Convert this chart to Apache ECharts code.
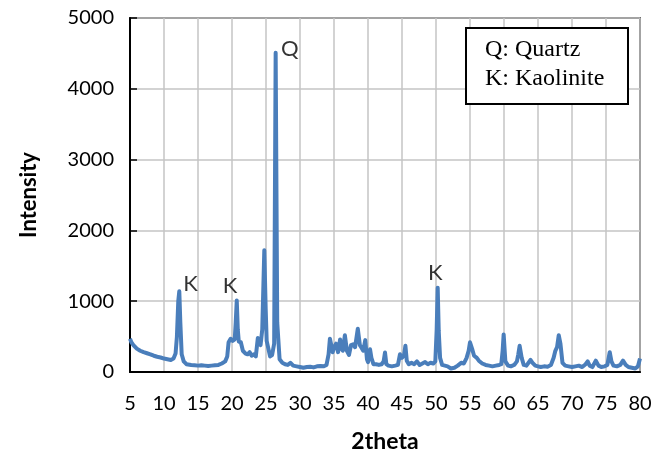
<!DOCTYPE html>
<html>
<head>
<meta charset="utf-8">
<script src="https://cdn.jsdelivr.net/npm/echarts@6/dist/echarts.min.js"></script>
<style>html,body{margin:0;padding:0;background:#fff}#c{width:669px;height:458px}</style>
</head>
<body>
<div id="c"></div>
<script>
// 2theta positions (degrees)
const twoTheta = [
5.0,5.2,5.5,6.0,6.5,7.0,7.5,8.0,8.5,9.0,9.5,10.0,10.5,11.0,11.4,11.7,11.9,12.1,12.25,12.4,12.6,12.9,13.3,14.0,14.5,15.0,15.5,16.0,16.5,17.0,17.5,18.0,18.5,19.0,19.3,19.5,19.8,20.1,20.4,20.55,20.7,20.85,21.0,21.3,21.6,22.0,22.3,22.6,22.9,23.2,23.5,23.8,24.0,24.2,24.45,24.75,24.95,25.1,25.3,25.6,25.9,26.2,26.42,26.65,27.0,27.4,27.8,28.2,28.6,29.0,29.5,30.0,30.5,31.0,31.5,32.0,32.5,33.0,33.5,33.9,34.2,34.4,34.6,34.8,35.0,35.3,35.6,35.9,36.1,36.3,36.6,36.9,37.2,37.5,37.8,38.1,38.5,38.8,39.0,39.3,39.6,39.85,40.0,40.3,40.5,40.8,41.2,41.6,42.0,42.3,42.5,42.7,43.0,43.5,44.0,44.4,44.7,45.0,45.3,45.5,45.7,46.0,46.4,46.8,47.2,47.6,48.0,48.4,48.8,49.2,49.6,49.9,50.1,50.25,50.4,50.6,50.9,51.3,51.7,52.2,52.7,53.2,53.7,54.1,54.5,54.8,55.0,55.3,55.6,56.0,56.3,56.8,57.3,57.8,58.3,58.8,59.3,59.6,59.8,59.95,60.2,60.6,61.0,61.5,61.9,62.1,62.3,62.6,62.9,63.3,63.9,64.2,64.6,65.0,65.4,65.9,66.4,66.9,67.3,67.55,67.8,68.05,68.3,68.6,69.0,69.5,70.0,70.5,71.0,71.5,72.0,72.3,72.6,73.0,73.5,73.9,74.3,74.8,75.2,75.55,75.8,76.1,76.6,77.1,77.5,77.9,78.3,78.8,79.3,79.7,80.0
];
// Intensity values
const intensity = [
470,420,380,330,300,280,265,250,230,215,205,190,180,170,190,260,500,1000,1140,700,250,150,110,100,95,90,95,90,85,90,95,100,120,150,220,420,470,440,460,700,1010,600,430,420,300,260,250,280,230,250,220,480,460,380,600,1720,900,440,450,220,240,400,4510,700,180,130,110,100,130,90,80,70,60,70,75,65,80,85,80,100,250,470,380,280,350,400,280,460,330,300,520,300,240,380,390,350,610,380,350,300,450,180,140,320,200,110,110,100,110,150,275,110,90,80,90,100,250,200,240,370,160,110,130,110,150,100,120,140,110,130,120,150,600,1190,580,200,100,90,80,50,60,90,130,120,200,300,420,330,230,200,160,120,100,90,80,90,100,110,300,530,150,90,80,100,150,250,370,200,100,90,170,130,90,80,70,80,75,100,200,300,350,520,400,130,90,80,70,80,90,70,110,150,90,70,160,90,70,80,100,280,150,90,80,100,160,100,70,60,50,80,190
];
// Phase annotation labels
const annoText = ['K','K','Q','K'];
const annoX = [13.9,19.7,28.5,49.9];
const annoY = [1250,1220,4560,1400];
// Axis ticks
const xTicks = {min:5,max:80,step:5};
const yTicks = {min:0,max:5000,step:1000};

const lineData = twoTheta.map((x,i)=>[x,intensity[i]]);
const annoData = annoText.map((t,i)=>({value:[annoX[i],annoY[i]],name:t}));

const chart = echarts.init(document.getElementById('c'));
const labelFont = 'Lato, "Liberation Sans", sans-serif';
chart.setOption({
  animation:false,
  grid:{left:130,right:29,top:18,bottom:85,show:true,borderColor:'#000',borderWidth:1.5,containLabel:false},
  xAxis:{
    type:'value',min:xTicks.min,max:xTicks.max,interval:xTicks.step,
    name:'2theta',nameLocation:'middle',nameGap:58,
    nameTextStyle:{fontFamily:labelFont,fontSize:23,fontWeight:'bold',color:'#000'},
    axisLine:{lineStyle:{color:'#000',width:2}},
    axisTick:{show:false},
    axisLabel:{fontFamily:labelFont,fontSize:20,color:'#000',margin:22},
    splitLine:{show:true,lineStyle:{color:'#c4c4c4',width:1.5}}
  },
  yAxis:{
    type:'value',min:yTicks.min,max:yTicks.max,interval:yTicks.step,
    name:'Intensity',nameLocation:'middle',nameGap:90,nameRotate:90,
    nameTextStyle:{fontFamily:labelFont,fontSize:22,fontWeight:'bold',color:'#000'},
    axisLine:{show:true,lineStyle:{color:'#000',width:2}},
    axisTick:{show:true,inside:true,length:7,lineStyle:{color:'#000',width:1.5}},
    axisLabel:{fontFamily:labelFont,fontSize:20,color:'#000',margin:16,formatter:v=>String(v)},
    splitLine:{show:true,lineStyle:{color:'#c4c4c4',width:1.5}}
  },
  series:[
    {type:'line',data:lineData,showSymbol:false,symbol:'none',
     lineStyle:{color:'#4a7ebb',width:4,join:'round'},z:3},
    {type:'scatter',data:annoData,symbolSize:0,silent:true,
     label:{show:true,position:'inside',formatter:p=>p.name,
       fontFamily:labelFont,fontSize:22,color:'#000'},z:4}
  ],
  graphic:[
    {type:'rect',left:465,top:27,shape:{width:162,height:76},
     style:{fill:'#fff',stroke:'#000',lineWidth:2},z:10},
    {type:'text',left:485,top:35,
     style:{text:'Q: Quartz\nK: Kaolinite',font:'24px "Liberation Serif", "Times New Roman", serif',fill:'#000',lineHeight:29},z:11}
  ]
});
</script>
</body>
</html>
